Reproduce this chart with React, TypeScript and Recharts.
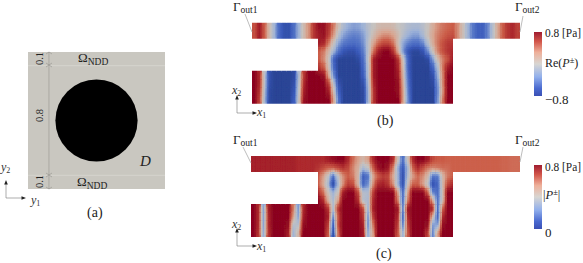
import React from 'react';
import { Bar, BarChart, ReferenceArea, ReferenceLine, Scatter, ScatterChart, XAxis, YAxis } from "recharts";

// field samples: columns along x1, rows from the top of the strip down
const COLS = 54;
const rowStart = [0, 0, 13, 13, 13, 13, 0, 0, 0, 0];

const reRows = [
    [.5,.7,.45,.1,-.2,-.55,-.7,-.7,-.5,-.2,.1,.3,.6,.75,.75,.6,.35,.05,-.15,-.25,-.3,-.28,-.2,-.08,0,.08,.1,.1,.08,0,-.05,-.12,-.15,-.15,-.08,.02,.18,.3,.38,.42,.45,.3,.05,-.2,-.45,-.6,-.6,-.4,-.1,.2,.45,.6,.65,.55],
    [.5,.7,.45,.1,-.2,-.55,-.7,-.7,-.5,-.2,.1,.3,.6,.7,.75,.55,.25,-.1,-.3,-.38,-.42,-.4,-.3,-.1,.08,.22,.3,.3,.22,.08,-.1,-.22,-.3,-.3,-.15,.05,.22,.35,.42,.48,.5,.3,.05,-.2,-.45,-.6,-.6,-.4,-.1,.2,.45,.6,.65,.55],
    [.7,.65,.35,0,-.3,-.45,-.5,-.52,-.48,-.35,-.05,.22,.42,.52,.52,.38,.05,-.28,-.42,-.5,-.5,-.38,-.08,.2,.38,.5,.58,.6],
    [.45,.35,.1,-.2,-.5,-.68,-.72,-.72,-.62,-.42,-.05,.4,.7,.8,.8,.6,.15,-.35,-.68,-.78,-.78,-.68,-.35,.05,.35,.5,.6,.65],
    [.45,.3,0,-.6,-.8,-.8,-.8,-.8,-.75,-.5,0,.7,.8,.8,.8,.8,.6,0,-.6,-.8,-.8,-.8,-.75,-.3,.1,.35,.5,.7],
    [.6,.45,.05,-.55,-.8,-.8,-.8,-.8,-.8,-.55,-.05,.7,.8,.8,.8,.8,.65,.05,-.6,-.8,-.8,-.8,-.8,-.55,-.1,.4,.7,.8],
    [.8,.65,-.05,-.7,-.8,-.8,-.8,-.8,-.75,-.1,.6,.8,.8,.8,.75,.2,-.4,-.8,-.8,-.8,-.8,-.8,-.6,-.05,.7,.8,.8,.8,.8,.7,.1,-.55,-.8,-.8,-.8,-.8,-.7,-.2,.35,.8,.8],
    [.8,.65,-.05,-.7,-.8,-.8,-.8,-.8,-.7,-.05,.65,.8,.8,.8,.8,.55,-.1,-.7,-.8,-.8,-.8,-.8,-.7,-.1,.65,.8,.8,.8,.8,.75,.15,-.5,-.8,-.8,-.8,-.8,-.75,-.3,.35,.8,.8],
    [.8,.6,-.1,-.75,-.8,-.8,-.8,-.8,-.65,0,.7,.8,.8,.8,.8,.7,.05,-.6,-.8,-.8,-.8,-.8,-.75,-.15,.6,.8,.8,.8,.8,.75,.2,-.45,-.8,-.8,-.8,-.8,-.8,-.35,.3,.8,.8],
    [.8,.55,-.15,-.75,-.8,-.8,-.8,-.8,-.6,.05,.75,.8,.8,.8,.8,.8,.2,-.5,-.8,-.8,-.8,-.8,-.75,-.15,.6,.8,.8,.8,.8,.8,.2,-.4,-.8,-.8,-.8,-.8,-.8,-.3,.4,.8,.8],
];

const absRows = [
    [.74,.74,.74,.74,.74,.74,.74,.74,.74,.72,.72,.72,.72,.72,.72,.75,.78,.8,.8,.72,.6,.52,.46,.52,.72,.8,.8,.8,.72,.42,.15,.42,.72,.8,.8,.75,.66,.63,.63,.62,.62,.62,.62,.62,.62,.62,.62,.62,.62,.62,.61,.61,.6,.6],
    [.74,.74,.74,.74,.74,.74,.74,.74,.74,.72,.72,.72,.72,.7,.66,.62,.62,.66,.7,.66,.56,.48,.32,.38,.62,.76,.8,.76,.58,.28,.08,.32,.62,.72,.65,.58,.56,.58,.6,.6,.62,.62,.62,.62,.62,.62,.62,.62,.62,.62,.61,.61,.6,.6],
    [.63,.52,.38,.15,.38,.55,.62,.58,.46,.1,.16,.5,.62,.68,.66,.5,.3,.05,.35,.52,.6,.55,.45,.16,.18,.46,.58,.62],
    [.62,.5,.32,.03,.32,.55,.68,.65,.46,.12,.22,.55,.72,.74,.7,.55,.3,.06,.42,.62,.62,.52,.38,.05,.12,.46,.66,.72],
    [.72,.6,.42,.3,.42,.75,.8,.8,.66,.36,.34,.68,.8,.8,.8,.8,.52,.14,.52,.8,.8,.8,.62,.2,.14,.44,.8,.8],
    [.8,.72,.48,.33,.52,.8,.8,.8,.72,.36,.33,.72,.8,.8,.8,.8,.58,.15,.58,.8,.8,.8,.8,.5,.16,.44,.8,.8],
    [.8,.72,.26,.74,.8,.8,.8,.8,.58,.24,.72,.8,.8,.8,.8,.7,.34,.7,.8,.8,.8,.8,.66,.3,.74,.8,.8,.8,.8,.76,.2,.76,.8,.8,.8,.8,.72,.14,.62,.8,.8],
    [.8,.72,.26,.72,.8,.8,.8,.8,.52,.26,.74,.8,.8,.8,.8,.74,.22,.64,.8,.8,.8,.8,.7,.24,.68,.8,.8,.8,.8,.72,.13,.72,.8,.8,.8,.8,.46,.12,.72,.8,.8],
    [.8,.72,.26,.72,.8,.8,.8,.78,.36,.36,.78,.8,.8,.8,.8,.68,.1,.66,.8,.8,.8,.8,.74,.22,.58,.8,.8,.8,.8,.68,.2,.68,.8,.8,.8,.78,.24,.26,.78,.8,.8],
    [.8,.7,.28,.7,.8,.8,.8,.74,.3,.46,.8,.8,.8,.8,.8,.64,.05,.6,.8,.8,.8,.8,.76,.28,.52,.8,.8,.8,.8,.64,.3,.64,.8,.8,.8,.68,.2,.52,.8,.8,.8],
];

// cool to warm, as it reads inside the fields
const mapStops = [
    [0, "#2b4596"], [.1, "#3a5abb"], [.22, "#5878c8"], [.36, "#9db2d8"], [.5, "#c6c3c0"],
    [.64, "#d9a590"], [.78, "#cb5d48"], [.9, "#ad2a2e"], [1, "#8b0520"],
] as const;

// the same map on the colour bars
const barStops = [
    [0, "#3a4fb4"], [.12, "#4a6ad0"], [.3, "#92b0ec"], [.5, "#d8d6d2"],
    [.68, "#eeb09a"], [.85, "#d2564a"], [1, "#a01c30"],
] as const;

const hex = (s: string) => [1, 3, 5].map(i => parseInt(s.slice(i, i + 2), 16));

function mapColor(t: number) {
    const c = Math.min(1, Math.max(0, t));
    let k = 0;
    while (k < mapStops.length - 2 && mapStops[k + 1][0] < c) k++;
    const [t0, c0] = mapStops[k];
    const [t1, c1] = mapStops[k + 1];
    const f = (c - t0) / (t1 - t0);
    const a = hex(c0), b = hex(c1);
    return `rgb(${a.map((v, i) => Math.round(v + (b[i] - v) * f)).join(",")})`;
}

const valueAt = (rows: number[][], r: number, c: number): number | undefined => {
    if (r < 0 || r >= rows.length) return undefined;
    return rows[r][c - rowStart[r]];
};

function buildCells(rows: number[][]) {
    const cells: any[] = [];
    rows.forEach((row, r) => row.forEach((v, i) => {
        const c = i + rowStart[r];
        cells.push({
            col: c + 0.5,
            row: r + 0.5,
            v,
            // cells on the outline run past it, the clip trims them
            l: valueAt(rows, r, c - 1) === undefined,
            rt: valueAt(rows, r, c + 1) === undefined,
            t: valueAt(rows, r - 1, c) === undefined,
            b: valueAt(rows, r + 1, c) === undefined,
        });
    }));
    return cells;
}

// shade inside a cell in value space, missing neighbours read as the cell itself
function shade(rows: number[][], x: number, y: number, own: number) {
    const gx = x - 0.5, gy = y - 0.5;
    const c0 = Math.floor(gx), r0 = Math.floor(gy);
    const fx = gx - c0, fy = gy - r0;
    const v = (r: number, c: number) => valueAt(rows, r, c) ?? own;
    const top = v(r0, c0) * (1 - fx) + v(r0, c0 + 1) * fx;
    const bottom = v(r0 + 1, c0) * (1 - fx) + v(r0 + 1, c0 + 1) * fx;
    return top * (1 - fy) + bottom * fy;
}

const BLEED = 6;
const SUB_X = 3;
const SUB_Y = 4;

const Field = ({ rows, min, max, left, top, width, height, cut }: any) => {
    const w = width / COLS;
    const h = height / rows.length;
    const color = (v: number) => mapColor((v - min) / (max - min));
    const cellShape = (p: any) => {
        const { cx, cy, payload: d } = p;
        const parts = [];
        for (let i = 0; i < SUB_X; i++) {
            for (let j = 0; j < SUB_Y; j++) {
                const ox = (i + 0.5) / SUB_X - 0.5, oy = (j + 0.5) / SUB_Y - 0.5;
                parts.push(<rect key={i + "-" + j}
                    x={cx + (ox - 0.5 / SUB_X) * w} y={cy + (oy - 0.5 / SUB_Y) * h}
                    width={w / SUB_X + 0.4} height={h / SUB_Y + 0.4}
                    fill={color(shade(rows, d.col + ox, d.row + oy, d.v))} />);
            }
        }
        return (
            <g>
                <rect x={cx - w / 2 - (d.l ? BLEED : 0)} y={cy - h / 2 - (d.t ? BLEED : 0)}
                    width={w + (d.l ? BLEED : 0) + (d.rt ? BLEED : 0)}
                    height={h + (d.t ? BLEED : 0) + (d.b ? BLEED : 0)}
                    fill={color(d.v)} />
                {parts}
            </g>
        );
    };
    const p = BLEED + 4;
    const x1 = p + cut.x1, x2 = p + cut.x2, y1 = p + cut.y1, y2 = p + cut.y2;
    const R = p + width, B = p + height;
    const poly = [[p, p], [R, p], [R, y1], [x2, y1], [x2, B], [p, B], [p, y2], [x1, y2], [x1, y1], [p, y1]]
        .map(q => `${q[0]}px ${q[1]}px`).join(",");
    return (
        <div style={{ position: "absolute", left: left - p, top: top - p, width: width + 2 * p, height: height + 2 * p, clipPath: `polygon(${poly})` }}>
            <div style={{ filter: "url(#fieldBlur)" }}>
                <ScatterChart width={width + 2 * p} height={height + 2 * p} margin={{ top: p, right: p, bottom: p, left: p }}>
                    <XAxis type="number" dataKey="col" domain={[0, COLS]} hide />
                    <YAxis type="number" dataKey="row" domain={[0, rows.length]} reversed hide />
                    <Scatter data={buildCells(rows)} shape={cellShape} isAnimationActive={false} />
                </ScatterChart>
            </div>
        </div>
    );
};

const ColorBar = ({ id, left, top, min, max }: any) => (
    <div style={{ position: "absolute", left, top }}>
        <BarChart width={8} height={64} data={[{ name: "p", span: [min, max] }]} barCategoryGap={0} margin={{ top: 0, right: 0, bottom: 0, left: 0 }}>
            <defs>
                <linearGradient id={id} x1="0" y1="1" x2="0" y2="0">
                    {barStops.map(s => <stop key={s[0]} offset={s[0]} stopColor={s[1]} />)}
                </linearGradient>
            </defs>
            <XAxis dataKey="name" hide />
            <YAxis type="number" domain={[min, max]} hide />
            <Bar dataKey="span" fill={`url(#${id})`} isAnimationActive={false} />
        </BarChart>
    </div>
);

// panel (a)
const inclusion = [{ y1: 0.5, y2: 0.5 }];
const INCLUSION_DIAMETER = 0.6;
const layerBounds = [0.1, 0.9];

const Domain = ({ left, top, size }: any) => (
    <div style={{ position: "absolute", left, top }}>
        <ScatterChart width={size} height={size} margin={{ top: 0, right: 0, bottom: 0, left: 0 }}>
            <XAxis type="number" dataKey="y1" domain={[0, 1]} hide />
            <YAxis type="number" dataKey="y2" domain={[0, 1]} hide />
            <ReferenceArea x1={0} x2={1} y1={0} y2={1} fill="#c9c7c0" fillOpacity={1} stroke="none" />
            {layerBounds.map(b => <ReferenceLine key={b} y={b} stroke="#d6d4ce" strokeWidth={1} />)}
            <ReferenceLine x={0.153} stroke="#a3a29c" strokeWidth={0.8} />
            <Scatter data={inclusion} isAnimationActive={false}
                shape={(p: any) => <circle cx={p.cx} cy={p.cy} r={INCLUSION_DIAMETER * size / 2} fill="#000" />} />
        </ScatterChart>
    </div>
);

const serif = "'Liberation Serif', serif";

const Gamma = ({ x, y, n }: any) => (
    <text x={x} y={y} fontSize={13}>Γ<tspan dy={2} fontSize={9.5}>out{n}</tspan></text>
);

const Omega = ({ x, y }: any) => (
    <text x={x} y={y} fontSize={13}>Ω<tspan dy={2.5} fontSize={9.5}>NDD</tspan></text>
);

const Frame = ({ x, y, a, b, ox, oy, bx, by }: any) => (
    <g>
        <path d={`M${x} ${y - 15}V${y}H${x + 17}`} fill="none" stroke="#777" strokeWidth={0.6} />
        <path d={`M${x} ${y - 18}l-1.8 4.5h3.6z`} fill="#222" />
        <path d={`M${x + 20} ${y}l-4.5 -1.8v3.6z`} fill="#222" />
        <text x={ox} y={oy} fontSize={12} fontStyle="italic" fill="#333">{a}<tspan dy={2} fontSize={8} fontStyle="normal">1</tspan></text>
        <text x={bx} y={by} fontSize={12} fontStyle="italic" fill="#333">{b}<tspan dy={2} fontSize={8} fontStyle="normal">2</tspan></text>
    </g>
);

const App = () => (
    <div style={{ position: "absolute", left: 0, top: 0, width: 583, height: 263, background: "#fff", overflow: "hidden" }}>
        <Domain left={28} top={52} size={137} />
        <Field rows={reRows} min={-0.8} max={0.8} left={252} top={22.7} width={268} height={81}
            cut={{ x1: 66, x2: 201, y1: 16, y2: 48 }} />
        <Field rows={absRows} min={0} max={0.8} left={251} top={156} width={269} height={81}
            cut={{ x1: 67, x2: 202, y1: 16, y2: 48 }} />
        <ColorBar id="cbRe" left={534} top={32} min={-0.8} max={0.8} />
        <ColorBar id="cbAbs" left={534} top={165} min={0} max={0.8} />

        <svg width={583} height={263} style={{ position: "absolute", left: 0, top: 0, fontFamily: serif }} fill="#222">
            <defs>
                <filter id="fieldBlur" x="-5%" y="-5%" width="110%" height="110%">
                    <feGaussianBlur stdDeviation="0.6" />
                </filter>
            </defs>
            {/* panel (a) */}
            <g stroke="#93928d" strokeWidth={0.6} fill="none">
                <path d="M46 54l3 -2l3 2M46 63l3 2l3 -2M46 67l3 -2l3 2M46 173l3 2l3 -2M46 177l3 -2l3 2M46 187l3 2l3 -2" />
            </g>
            <text transform="translate(43 65) rotate(-90)" fontSize={10.5}>0.1</text>
            <text transform="translate(43 122) rotate(-90)" fontSize={10.5}>0.8</text>
            <text transform="translate(43 188) rotate(-90)" fontSize={10.5}>0.1</text>
            <Omega x={78} y={62} />
            <Omega x={77} y={186} />
            <text x={140} y={166} fontSize={15} fontStyle="italic">D</text>
            <text x={87} y={217} fontSize={14}>(a)</text>
            <Frame x={6} y={198} a="y" b="y" ox={31} oy={204} bx={1} by={171} />

            {/* panel (b) */}
            <Gamma x={233} y={11} n={1} />
            <Gamma x={515} y={11} n={2} />
            <path d="M245 14L252 32M523 16L520 32" stroke="#a0a0a0" strokeWidth={0.7} fill="none" />
            <Frame x={237} y={113} a="x" b="x" ox={257} oy={116} bx={232} by={94} />
            <text x={377} y={125} fontSize={14}>(b)</text>
            <text x={545} y={37} fontSize={12} textLength={36} lengthAdjust="spacingAndGlyphs">0.8 [Pa]</text>
            <text x={545} y={67} fontSize={12}>Re(<tspan fontStyle="italic">P</tspan><tspan dy={-4} fontSize={8.5}>±</tspan><tspan dy={4}>)</tspan></text>
            <text x={545} y={104} fontSize={13}>−0.8</text>

            {/* panel (c) */}
            <Gamma x={233} y={144} n={1} />
            <Gamma x={515} y={144} n={2} />
            <path d="M243 147L251 163M523 147L520 162" stroke="#a0a0a0" strokeWidth={0.7} fill="none" />
            <Frame x={237} y={246} a="x" b="x" ox={257} oy={250} bx={232} by={228} />
            <text x={376} y={258} fontSize={14}>(c)</text>
            <text x={545} y={171} fontSize={12} textLength={36} lengthAdjust="spacingAndGlyphs">0.8 [Pa]</text>
            <text x={543} y={199} fontSize={12.5}>|<tspan fontStyle="italic">P</tspan><tspan dy={-4} fontSize={8.5}>±</tspan><tspan dy={4}>|</tspan></text>
            <text x={545} y={237} fontSize={13}>0</text>
        </svg>
    </div>
);

export default App;
